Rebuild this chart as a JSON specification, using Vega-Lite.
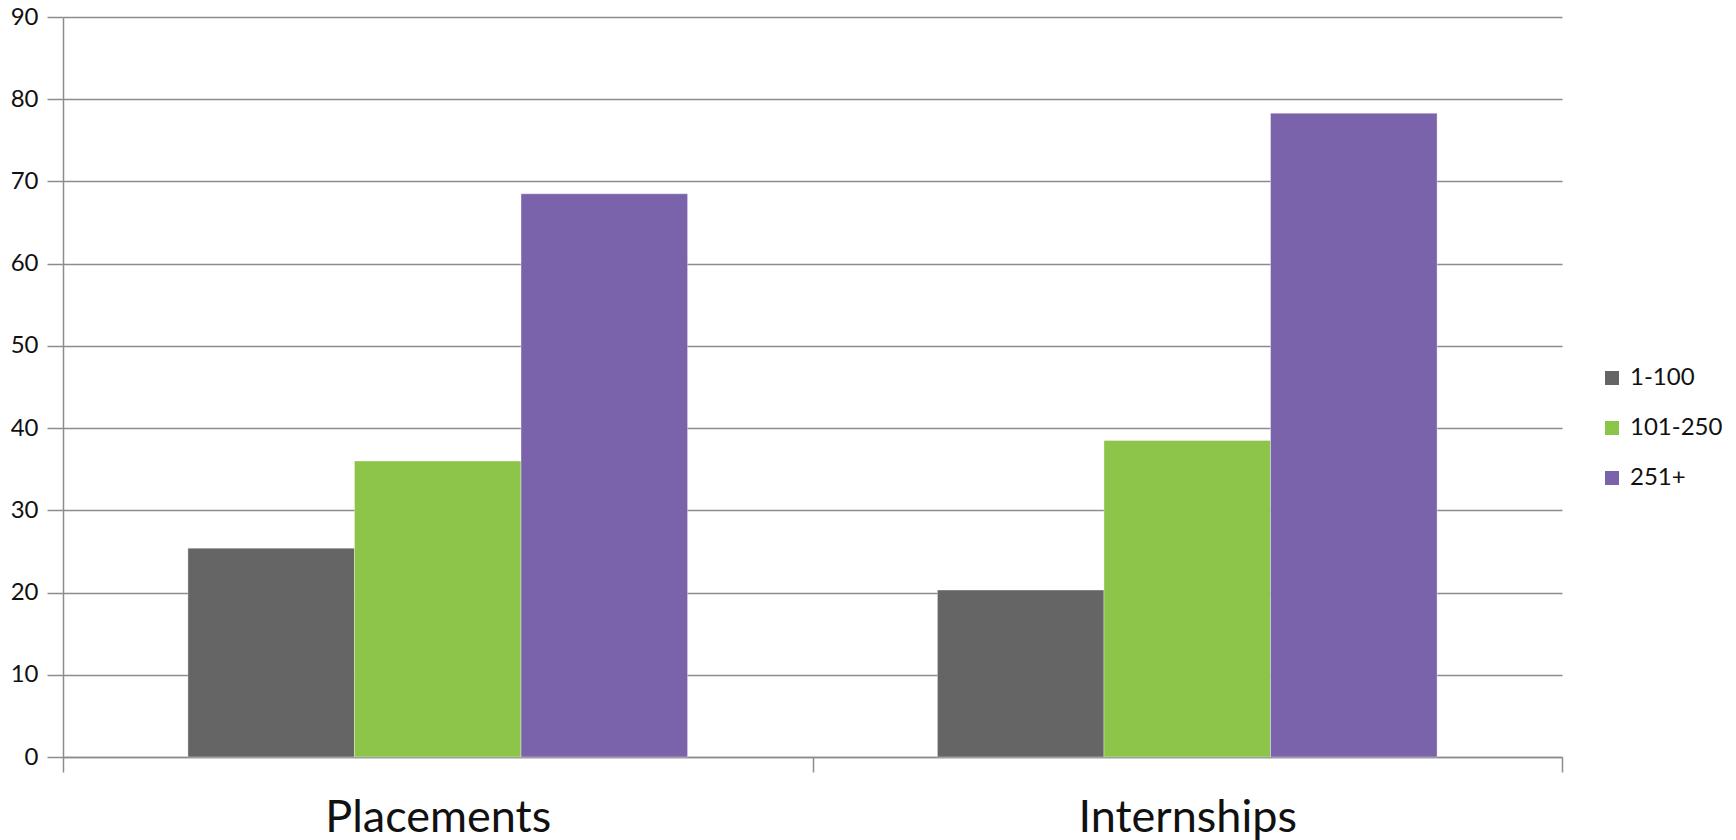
{
  "$schema": "https://vega.github.io/schema/vega-lite/v6.json",
  "width": 1499,
  "height": 740,
  "autosize": {"type": "none"},
  "padding": {"left": 63, "top": 17, "right": 174, "bottom": 83},
  "background": "#ffffff",
  "config": {
    "view": {"stroke": null},
    "font": "Lato"
  },
  "data": {
    "values": [
      {"type": "Placements", "rank": "1-100", "value": 25.4},
      {"type": "Placements", "rank": "101-250", "value": 36.0},
      {"type": "Placements", "rank": "251+", "value": 68.5},
      {"type": "Internships", "rank": "1-100", "value": 20.3},
      {"type": "Internships", "rank": "101-250", "value": 38.5},
      {"type": "Internships", "rank": "251+", "value": 78.3}
    ]
  },
  "mark": {"type": "bar", "stroke": "#ffffff", "strokeOpacity": 0.35, "strokeWidth": 1},
  "encoding": {
    "x": {
      "field": "type",
      "type": "nominal",
      "sort": ["Placements", "Internships"],
      "scale": {"paddingInner": 0, "paddingOuter": 0},
      "axis": {
        "title": null,
        "domainColor": "#8c8c8c",
        "domainWidth": 1.5,
        "tickColor": "#8c8c8c",
        "tickWidth": 1.5,
        "tickSize": 15,
        "tickBand": "extent",
        "labelAngle": 0,
        "labelFontSize": 45,
        "labelLimit": 0,
        "labelColor": "#111111",
        "labelBaseline": "alphabetic",
        "labelPadding": 59,
        "grid": false
      }
    },
    "xOffset": {
      "field": "rank",
      "type": "nominal",
      "sort": ["1-100", "101-250", "251+"],
      "scale": {"paddingInner": 0, "paddingOuter": 0.75}
    },
    "y": {
      "field": "value",
      "type": "quantitative",
      "scale": {"domain": [0, 90], "nice": false},
      "axis": {
        "title": null,
        "values": [0, 10, 20, 30, 40, 50, 60, 70, 80, 90],
        "domainColor": "#8c8c8c",
        "domainWidth": 1.5,
        "tickColor": "#8c8c8c",
        "tickWidth": 1.5,
        "tickSize": 16,
        "gridColor": "#8c8c8c",
        "gridWidth": 1.5,
        "labelFontSize": 24,
        "labelColor": "#111111",
        "labelPadding": 9
      }
    },
    "color": {
      "field": "rank",
      "type": "nominal",
      "sort": ["1-100", "101-250", "251+"],
      "scale": {"domain": ["1-100", "101-250", "251+"], "range": ["#656565", "#8cc54a", "#7a63aa"]},
      "legend": {
        "title": null,
        "orient": "none",
        "legendX": 1537,
        "legendY": 349,
        "padding": 0,
        "symbolType": "square",
        "symbolSize": 196,
        "symbolStrokeWidth": 0,
        "labelFontSize": 24,
        "labelColor": "#111111",
        "labelOffset": 6,
        "rowPadding": 26
      }
    }
  }
}
